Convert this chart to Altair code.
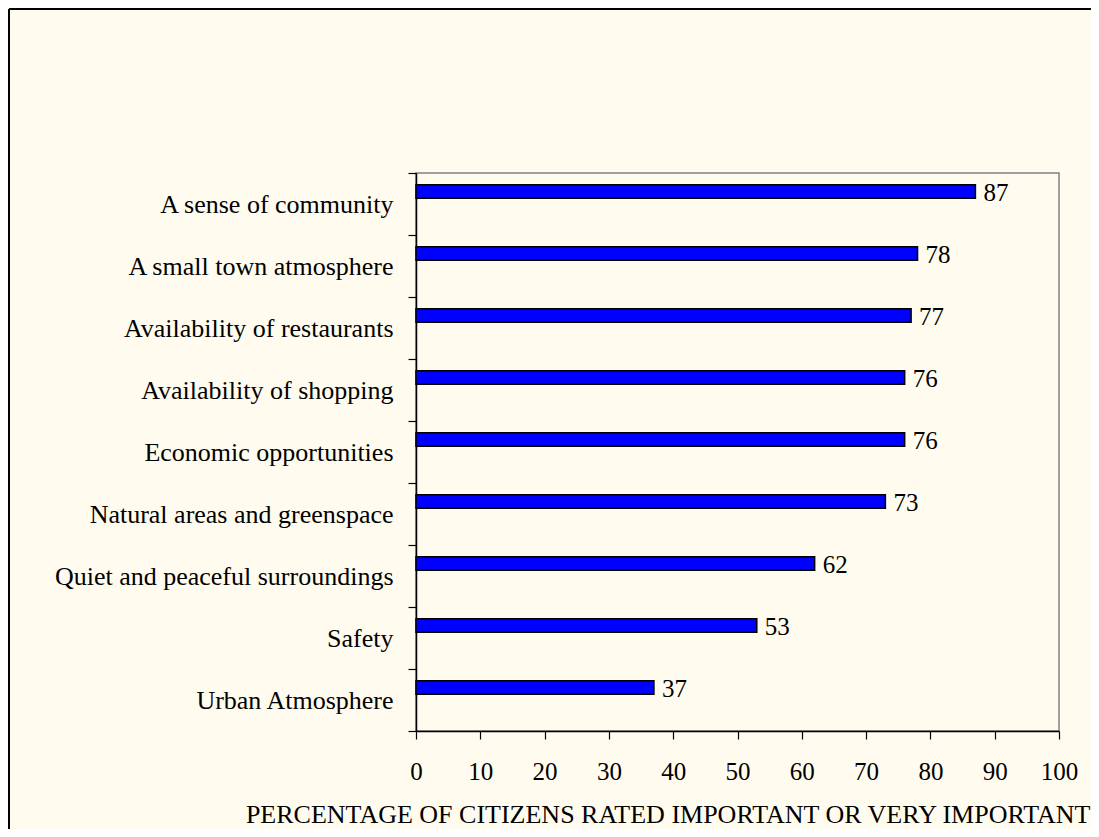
import altair as alt
import pandas as pd

categories = [
    "A sense of community",
    "A small town atmosphere",
    "Availability of restaurants",
    "Availability of shopping",
    "Economic opportunities",
    "Natural areas and greenspace",
    "Quiet and peaceful surroundings",
    "Safety",
    "Urban Atmosphere",
]
values = [87, 78, 77, 76, 76, 73, 62, 53, 37]
x_ticks = [0, 10, 20, 30, 40, 50, 60, 70, 80, 90, 100]
x_title = "PERCENTAGE OF CITIZENS RATED IMPORTANT OR VERY IMPORTANT"

df = pd.DataFrame({"category": categories, "value": values})

W, H = 643, 558
FONT = "Liberation Serif"
BG = "#FFFCEF"

y_enc = alt.Y(
    "category:N",
    sort=None,
    title=None,
    scale=alt.Scale(paddingInner=0, paddingOuter=0),
    axis=alt.Axis(
        tickBand="extent",
        domainColor="black",
        domainWidth=1.5,
        tickColor="black",
        tickSize=8,
        tickWidth=1.2,
        labelFont=FONT,
        labelFontSize=26,
        labelColor="black",
        labelPadding=15,
        labelLimit=500,
        grid=False,
    ),
)
x_enc = alt.X(
    "value:Q",
    scale=alt.Scale(domain=[0, 100], nice=False),
    axis=alt.Axis(
        values=x_ticks,
        title=x_title,
        grid=False,
        domainColor="black",
        domainWidth=1.5,
        tickColor="black",
        tickSize=8,
        tickWidth=1.2,
        labelFont=FONT,
        labelFontSize=25,
        labelColor="black",
        labelPadding=20,
        labelFlush=False,
        titleFont=FONT,
        titleFontSize=26,
        titleFontWeight="normal",
        titleColor="black",
        titleAlign="right",
        titleAnchor="end",
        titleBaseline="alphabetic",
        titleX=674,
        titleY=91,
    ),
)

base = alt.Chart(df)
bars = base.mark_bar(
    size=13.5, color="#0000FF", stroke="black", strokeWidth=1.5, yOffset=-12.5
).encode(x=x_enc, y=y_enc)
labels = base.mark_text(
    align="left", baseline="middle", dx=8, dy=-11, font=FONT, fontSize=25, color="black"
).encode(x="value:Q", y=alt.Y("category:N", sort=None), text="value:Q")

one = pd.DataFrame({"a": [0]})
left_border = alt.Chart(one).mark_rule(color="black", strokeWidth=2).encode(
    x=alt.value(-407), y=alt.value(-164), y2=alt.value(H + 200)
)
top_border = alt.Chart(one).mark_rule(color="black", strokeWidth=2).encode(
    x=alt.value(-407), x2=alt.value(W + 100), y=alt.value(-164)
)

chart = (
    alt.layer(bars, labels, left_border, top_border)
    .properties(
        width=W,
        height=H,
        autosize=alt.AutoSizeParams(type="none"),
        padding={"left": 408, "top": 165, "right": 32, "bottom": 98},
        background=BG,
    )
    .configure_view(stroke="#808080", strokeWidth=1.5)
)

chart.save("out.html", embed_options={"renderer": "svg", "actions": False})
